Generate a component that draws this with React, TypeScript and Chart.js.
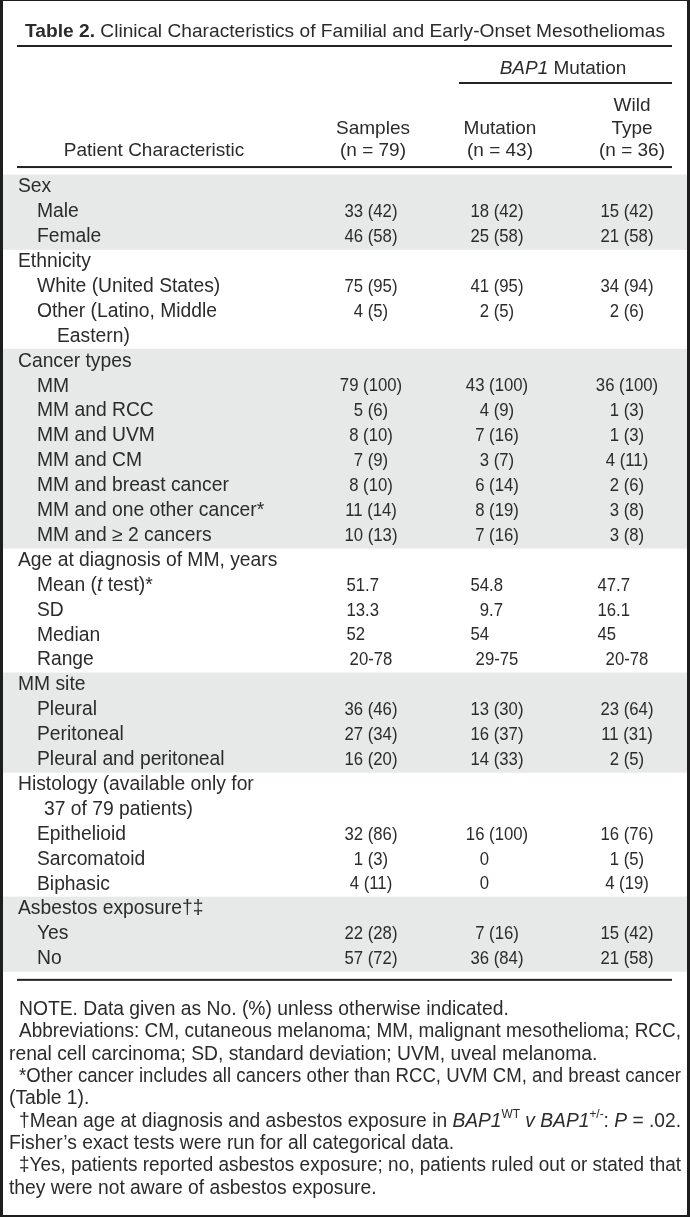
import React, { useEffect, useRef } from 'react';
import { Chart, registerables } from 'chart.js';

Chart.register(...registerables);

// ---------- DATA ----------
const titleText = '~Table 2.~ Clinical Characteristics of Familial and Early-Onset Mesotheliomas';
const spanHeader = '_BAP1_ Mutation';
const columnHeaders = [
  ['Patient Characteristic'],
  ['Samples', '(n = 79)'],
  ['Mutation', '(n = 43)'],
  ['Wild', 'Type', '(n = 36)'],
];

const rowLabels = [
  'Sex', 'Male', 'Female',
  'Ethnicity', 'White (United States)', 'Other (Latino, Middle', 'Eastern)',
  'Cancer types', 'MM', 'MM and RCC', 'MM and UVM', 'MM and CM', 'MM and breast cancer', 'MM and one other cancer*', 'MM and \u2265 2 cancers',
  'Age at diagnosis of MM, years', 'Mean (_t_ test)*', 'SD', 'Median', 'Range',
  'MM site', 'Pleural', 'Peritoneal', 'Pleural and peritoneal',
  'Histology (available only for', '37 of 79 patients)', 'Epithelioid', 'Sarcomatoid', 'Biphasic',
  'Asbestos exposure\u2020\u2021', 'Yes', 'No',
];
// 0 = group heading, 1 = item, 2 = heading continuation, 3 = item continuation
const rowLevels = [
  0, 1, 1,
  0, 1, 1, 3,
  0, 1, 1, 1, 1, 1, 1, 1,
  0, 1, 1, 1, 1,
  0, 1, 1, 1,
  0, 2, 1, 1, 1,
  0, 1, 1,
];
const rowGroups = [
  0, 0, 0,
  1, 1, 1, 1,
  2, 2, 2, 2, 2, 2, 2, 2,
  3, 3, 3, 3, 3,
  4, 4, 4, 4,
  5, 5, 5, 5, 5,
  6, 6, 6,
];
const samples = [
  '', '33 (42)', '46 (58)',
  '', '75 (95)', '4 (5)', '',
  '', '79 (100)', '5 (6)', '8 (10)', '7 (9)', '8 (10)', '11 (14)', '10 (13)',
  '', '51.7', '13.3', '52', '20-78',
  '', '36 (46)', '27 (34)', '16 (20)',
  '', '', '32 (86)', '1 (3)', '4 (11)',
  '', '22 (28)', '57 (72)',
];
const mutation = [
  '', '18 (42)', '25 (58)',
  '', '41 (95)', '2 (5)', '',
  '', '43 (100)', '4 (9)', '7 (16)', '3 (7)', '6 (14)', '8 (19)', '7 (16)',
  '', '54.8', '9.7', '54', '29-75',
  '', '13 (30)', '16 (37)', '14 (33)',
  '', '', '16 (100)', '0', '0',
  '', '7 (16)', '36 (84)',
];
const wildType = [
  '', '15 (42)', '21 (58)',
  '', '34 (94)', '2 (6)', '',
  '', '36 (100)', '1 (3)', '1 (3)', '4 (11)', '2 (6)', '3 (8)', '3 (8)',
  '', '47.7', '16.1', '45', '20-78',
  '', '23 (64)', '11 (31)', '2 (5)',
  '', '', '16 (76)', '1 (5)', '4 (19)',
  '', '15 (42)', '21 (58)',
];
const notes = [
  'NOTE. Data given as No. (%) unless otherwise indicated.',
  'Abbreviations: CM, cutaneous melanoma; MM, malignant mesothelioma; RCC,',
  'renal cell carcinoma; SD, standard deviation; UVM, uveal melanoma.',
  '*Other cancer includes all cancers other than RCC, UVM CM, and breast cancer',
  '(Table 1).',
  '\u2020Mean age at diagnosis and asbestos exposure in _BAP1_^WT^ _v BAP1_^+/-^: _P_ = .02.',
  'Fisher\u2019s exact tests were run for all categorical data.',
  '\u2021Yes, patients reported asbestos exposure; no, patients ruled out or stated that',
  'they were not aware of asbestos exposure.',
];
const noteFirstLine = [true, true, false, true, false, true, false, true, false];
const noteJustified = [false, true, false, true, false, true, false, true, false];

// ---------- STYLE / LAYOUT ----------
const W = 690;
const H = 1217;
const FONT = '"Liberation Sans", Arial, sans-serif';
const TEXT = '#2b2b2b';
const SHADE = '#e7e8e8';
const RULE = '#222222';
const LABEL = 19.3;
const HEAD = 19;
const NOTE = 19.3;
const VALUE = 19;
const VALUE_SX = 0.88;
const indentX = [18, 37, 44, 57];
const colCenter = [371, 497, 627];
const colDecimal = [365, 489, 616];
const headerCenter = [154, 373, 500, 632];

function fontStr(size: number, b: boolean, i: boolean) {
  return `${i ? 'italic ' : ''}${b ? 'bold ' : ''}${size}px ${FONT}`;
}

type Seg = { t: string; b: boolean; i: boolean; sup: boolean };
function parseRich(s: string): Seg[] {
  const out: Seg[] = [];
  let cur = '';
  let b = false, i = false, sup = false;
  const push = () => { if (cur) out.push({ t: cur, b, i, sup }); cur = ''; };
  for (const ch of s) {
    if (ch === '_') { push(); i = !i; }
    else if (ch === '^') { push(); sup = !sup; }
    else if (ch === '~') { push(); b = !b; }
    else cur += ch;
  }
  push();
  return out;
}

type Tok = { t: string; f: string; w: number; sup: boolean; space: boolean };
function tokenize(ctx: CanvasRenderingContext2D, s: string, size: number): Tok[] {
  const toks: Tok[] = [];
  for (const sg of parseRich(s)) {
    const sz = sg.sup ? size * 0.62 : size;
    const f = fontStr(sz, sg.b, sg.i);
    ctx.font = f;
    for (const part of sg.t.split(/( )/)) {
      if (!part) continue;
      toks.push({ t: part, f, w: ctx.measureText(part).width, sup: sg.sup, space: part === ' ' });
    }
  }
  return toks;
}

function drawRich(
  ctx: CanvasRenderingContext2D, s: string, x: number, y: number, size: number,
  align: 'left' | 'center' | 'right' = 'left', opts: { justify?: number; fit?: number } = {}
) {
  const toks = tokenize(ctx, s, size);
  const natural = toks.reduce((a, t) => a + t.w, 0);
  const nSp = toks.filter((t) => t.space).length;
  let extra = 0;
  let sx = 1;
  if (opts.justify) {
    const d = opts.justify - natural;
    if (d > 0 && nSp) extra = d / nSp;
    else if (d < 0) sx = opts.justify / natural;
  }
  if (opts.fit) sx = opts.fit / natural;
  const total = (natural + extra * nSp) * sx;
  const x0 = align === 'left' ? x : align === 'center' ? x - total / 2 : x - total;
  ctx.save();
  ctx.translate(x0, y);
  ctx.scale(sx, 1);
  ctx.textBaseline = 'middle';
  ctx.textAlign = 'left';
  ctx.fillStyle = TEXT;
  let cx = 0;
  for (const t of toks) {
    if (!t.space) {
      ctx.font = t.f;
      ctx.fillText(t.t, cx, t.sup ? -size * 0.36 : 0);
    }
    cx += t.w + (t.space ? extra : 0);
  }
  ctx.restore();
}

function drawCondensed(ctx: CanvasRenderingContext2D, t: string, x: number, y: number, align: 'left' | 'right' | 'center') {
  ctx.save();
  ctx.font = fontStr(VALUE, false, false);
  const w = ctx.measureText(t).width * VALUE_SX;
  const x0 = align === 'left' ? x : align === 'right' ? x - w : x - w / 2;
  ctx.translate(x0, y);
  ctx.scale(VALUE_SX, 1);
  ctx.fillStyle = TEXT;
  ctx.textBaseline = 'middle';
  ctx.textAlign = 'left';
  ctx.fillText(t, 0, 0);
  ctx.restore();
}

function drawValue(ctx: CanvasRenderingContext2D, v: string, col: number, y: number) {
  if (!v) return;
  const m = v.match(/^(\d+)(\.\d+)?$/);
  if (m) {
    drawCondensed(ctx, m[1], colDecimal[col], y, 'right');
    if (m[2]) drawCondensed(ctx, m[2], colDecimal[col], y, 'left');
  } else {
    drawCondensed(ctx, v, colCenter[col], y, 'center');
  }
}

function hRule(ctx: CanvasRenderingContext2D, x1: number, x2: number, y: number, lw = 2) {
  ctx.save();
  ctx.fillStyle = RULE;
  ctx.fillRect(x1, y - lw / 2, x2 - x1, lw);
  ctx.restore();
}

const tablePlugin = {
  id: 'tablePlugin',
  beforeDraw(chart: any) {
    const { ctx } = chart;
    const y = chart.scales.y;
    ctx.save();
    ctx.fillStyle = '#ffffff';
    ctx.fillRect(0, 0, W, H);
    const step = Math.abs(y.getPixelForValue(1) - y.getPixelForValue(0));
    ctx.fillStyle = SHADE;
    rowLabels.forEach((_, i) => {
      if (rowGroups[i] % 2 === 0) {
        const c = y.getPixelForValue(i);
        ctx.fillRect(0, c - step / 2, W, step + 0.5);
      }
    });
    ctx.restore();
  },
  afterDraw(chart: any) {
    const { ctx, chartArea } = chart;
    const y = chart.scales.y;
    const top = chartArea.top;
    const bottom = chartArea.bottom;

    // title & header
    drawRich(ctx, titleText, 25, 32, 19, 'left', { fit: 640 });
    hRule(ctx, 17, 672, 46);
    drawRich(ctx, spanHeader, 563, 69, HEAD, 'center');
    hRule(ctx, 459, 672, 83);
    const lineGap = 22.5;
    const headerBase = 151;
    columnHeaders.forEach((lines, c) => {
      lines.forEach((ln, k) => {
        const yy = headerBase - (lines.length - 1 - k) * lineGap;
        drawRich(ctx, ln, headerCenter[c], yy, HEAD, 'center');
      });
    });
    hRule(ctx, 17, 672, top - 7.5);

    // body rows
    rowLabels.forEach((lab, i) => {
      const cy = y.getPixelForValue(i);
      drawRich(ctx, lab, indentX[rowLevels[i]], cy, LABEL, 'left');
      drawValue(ctx, samples[i], 0, cy);
      drawValue(ctx, mutation[i], 1, cy);
      drawValue(ctx, wildType[i], 2, cy);
    });
    const bottomRule = bottom + 8.5;
    hRule(ctx, 17, 672, bottomRule);

    // footnotes
    const noteStart = bottomRule + 30;
    const noteGap = 22.3;
    notes.forEach((n, k) => {
      const x = noteFirstLine[k] ? 19 : 9;
      const yy = noteStart + k * noteGap;
      drawRich(ctx, n, x, yy, NOTE, 'left', noteJustified[k] ? { justify: 681 - x } : {});
    });

    // frame
    ctx.save();
    ctx.fillStyle = '#1e1e1e';
    ctx.fillRect(0, 0, 3, H);
    ctx.fillRect(W - 3, 0, 3, H);
    ctx.fillRect(0, H - 2, W, 2);
    ctx.fillRect(0, 0, W, 1);
    ctx.restore();
  },
};

export default function App() {
  const ref = useRef<HTMLCanvasElement | null>(null);
  useEffect(() => {
    if (!ref.current) return;
    const rowTop = 174.55;
    const rowBottom = 971.35;
    const chart = new Chart(ref.current, {
      type: 'bar',
      data: { labels: rowLabels, datasets: [] },
      options: {
        indexAxis: 'y',
        responsive: false,
        maintainAspectRatio: false,
        devicePixelRatio: 1,
        animation: false,
        events: [],
        layout: { padding: { top: rowTop, bottom: H - rowBottom, left: 0, right: 0 } },
        plugins: { legend: { display: false }, tooltip: { enabled: false }, title: { display: false } },
        scales: {
          y: { type: 'category', display: false, offset: true, grid: { display: false } },
          x: { type: 'linear', display: false, min: 0, max: W },
        },
      },
      plugins: [tablePlugin],
    });
    return () => chart.destroy();
  }, []);
  return (
    <div style={{ position: 'absolute', left: 0, top: 0, width: W, height: H, background: '#fff' }}>
      <canvas ref={ref} width={W} height={H} style={{ display: 'block', width: W, height: H }} />
    </div>
  );
}
